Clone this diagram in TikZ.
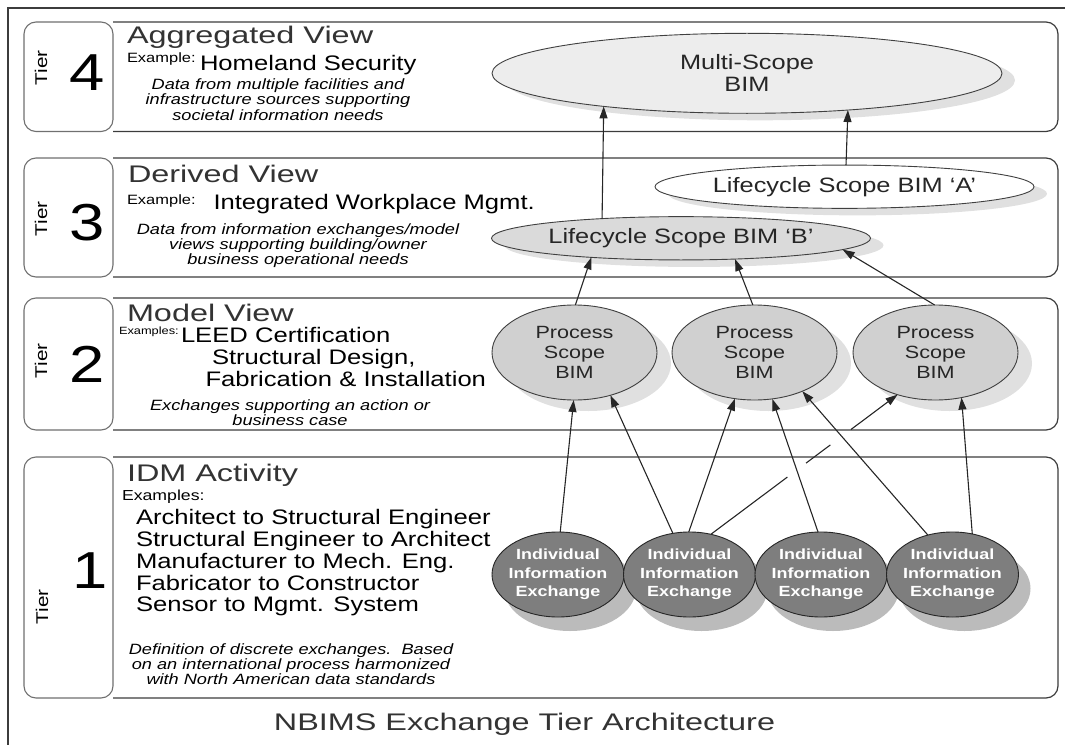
\documentclass[tikz,border=0pt]{standalone}
\usepackage{fontspec}
\setmainfont{Liberation Sans}
\newfontfamily\headfam[FakeStretch=1.35]{Liberation Sans}
\newfontfamily\bodyfam[FakeStretch=1.22]{Liberation Sans}
\usetikzlibrary{shapes.geometric,arrows.meta,shadows,calc}
\definecolor{boxline}{HTML}{3C3C3C}
\definecolor{labline}{HTML}{707070}
\definecolor{multifill}{HTML}{EDEDED}
\definecolor{bfill}{HTML}{DADADA}
\definecolor{psbfill}{HTML}{D0D0D0}
\definecolor{iiefill}{HTML}{7E7E7E}
\definecolor{softshadow}{HTML}{E0E0E0}
\definecolor{iieshadow}{HTML}{BBBBBB}
\tikzset{
  framepen/.style={draw=boxline, line width=1.5bp},
  tierbox/.style={draw=boxline, line width=1.2bp, rounded corners=12bp},
  labelbox/.style={draw=labline, line width=1.1bp, rounded corners=12bp, fill=white},
  txt/.style={inner sep=0pt, outer sep=0pt, text=black},
  headtxt/.style={txt, anchor=base west, text=black!80, font=\headfam\fontsize{24bp}{24bp}\selectfont},
  bigtxt/.style={txt, anchor=base west, font=\bodyfam\fontsize{21bp}{21bp}\selectfont},
  smalltxt/.style={txt, anchor=base west, font=\bodyfam\fontsize{13.5bp}{13.5bp}\selectfont},
  ittxt/.style={txt, anchor=base, font=\bodyfam\itshape\fontsize{14.9bp}{15bp}\selectfont},
  tierword/.style={txt, rotate=90, font=\bodyfam\fontsize{17bp}{17bp}\selectfont},
  tiernum/.style={txt, font=\bodyfam\fontsize{52bp}{52bp}\selectfont},
  bim/.style={ellipse, draw=black!75, line width=0.9bp, inner sep=0pt, outer sep=0pt, align=center, text=black!85},
  multibim/.style={bim, fill=multifill, minimum width=510bp, minimum height=80bp,
     font=\bodyfam\fontsize{20.8bp}{22bp}\selectfont,
     general shadow={shadow xshift=13bp, shadow yshift=-7bp, fill=softshadow}},
  lifebim/.style={bim, minimum width=379bp, minimum height=43.3bp, inner sep=-6bp,
     font=\bodyfam\fontsize{20.8bp}{22bp}\selectfont,
     general shadow={shadow xshift=13bp, shadow yshift=-7bp, fill=softshadow}},
  psbbim/.style={bim, fill=psbfill, minimum width=165bp, minimum height=95bp,
     font=\bodyfam\fontsize{17.7bp}{20bp}\selectfont,
     general shadow={shadow xshift=14bp, shadow yshift=-11bp, fill=softshadow}},
  iiebim/.style={bim, fill=iiefill, draw=black!85, minimum width=132bp, minimum height=85bp, inner sep=-14bp,
     text=white, font=\bodyfam\bfseries\fontsize{14.7bp}{18.3bp}\selectfont,
     general shadow={shadow xshift=12bp, shadow yshift=-14bp, fill=iieshadow}},
  linepen/.style={draw=black!85, line width=1.1bp},
  conn/.style={linepen, -{Triangle[length=12bp,width=8bp]}},
}
\begin{document}
\begin{tikzpicture}[x=1bp,y=-1bp]
\useasboundingbox (0,0) rectangle (1065,745);
% outer frame (left and top edges)
\coordinate (frameA) at (8,745);
\coordinate (frameB) at (8,8);
\coordinate (frameC) at (1065,8);
\draw[framepen] (frameA) -- (frameB) -- (frameC);

% tier boxes
\foreach \t/\b in {22/131.5,158/277,298/430,457/698}{
  \draw[tierbox] (113,\t) -- (1058,\t) -- (1058,\b) -- (113,\b);
  \draw[labelbox] (24,\t) rectangle (113,\b);
}

% ---------- Tier 4 ----------
\node[tierword] (t4word) at (41,68) {Tier};
\node[tiernum] (t4num) at (87,72.5) {4};
\node[headtxt] (t4head) at (127,43.3) {Aggregated View};
\node[smalltxt] (t4ex) at (127,62.5) {Example:};
\node[bigtxt] (t4exa) at (200,70.5) {Homeland Security};
\node[ittxt] (t4i1) at (278,89.5) {Data from multiple facilities and};
\node[ittxt] (t4i2) at (278,105) {infrastructure sources supporting};
\node[ittxt] (t4i3) at (278,120.5) {societal information needs};

% ---------- Tier 3 ----------
\node[tierword] (t3word) at (41,219) {Tier};
\node[tiernum] (t3num) at (87,222.5) {3};
\node[headtxt] (t3head) at (128,182.7) {Derived View};
\node[smalltxt] (t3ex) at (127,204) {Example:};
\node[bigtxt] (t3exa) at (213.5,209) {Integrated Workplace Mgmt.};
\node[ittxt] (t3i1) at (298,234.5) {Data from information exchanges/model};
\node[ittxt] (t3i2) at (298,249.5) {views supporting building/owner};
\node[ittxt] (t3i3) at (298,264.5) {business operational needs};

% ---------- Tier 2 ----------
\node[tierword] (t2word) at (41,361) {Tier};
\node[tiernum] (t2num) at (87,364) {2};
\node[headtxt] (t2head) at (127,321) {Model View};
\node[smalltxt, font=\bodyfam\fontsize{10.5bp}{10.5bp}\selectfont] (t2ex) at (119,334) {Examples:};
\node[bigtxt] (t2exa) at (181,342.5) {LEED Certification};
\node[bigtxt] (t2exb) at (212,364) {Structural Design,};
\node[bigtxt] (t2exc) at (205.5,386) {Fabrication \& Installation};
\node[ittxt] (t2i1) at (290,410) {Exchanges supporting an action or};
\node[ittxt] (t2i2) at (290,425) {business case};

% ---------- Tier 1 ----------
\node[tierword] (t1word) at (42,607) {Tier};
\node[tiernum] (t1num) at (90.5,571) {1};
\node[headtxt] (t1head) at (127,481.7) {IDM Activity};
\node[smalltxt, font=\bodyfam\fontsize{14.5bp}{14.5bp}\selectfont] (t1ex) at (122,500) {Examples:};
\node[bigtxt] (t1l1) at (136,524.5) {Architect to Structural Engineer};
\node[bigtxt] (t1l2) at (136,546.5) {Structural Engineer to Architect};
\node[bigtxt] (t1l3) at (136,568.5) {Manufacturer to Mech. Eng.};
\node[bigtxt] (t1l4) at (136,590) {Fabricator to Constructor};
\node[bigtxt] (t1l5) at (136,611.5) {Sensor to Mgmt. System};
\node[ittxt] (t1i1) at (291,654) {Definition of discrete exchanges.\ \ Based};
\node[ittxt] (t1i2) at (291,669) {on an international process harmonized};
\node[ittxt] (t1i3) at (291,684) {with North American data standards};

% title
\node[txt, anchor=base, text=black!80, font=\headfam\fontsize{24bp}{24bp}\selectfont] (title) at (524.5,730) {NBIMS Exchange Tier Architecture};

% ---------- BIM ellipses ----------
\node[multibim] (multi) at (747,73.3) {Multi-Scope\\BIM};
\node[lifebim, fill=white] (lcA) at (844.5,186.7) {Lifecycle Scope BIM ‘A’};
\node[lifebim, fill=bfill] (lcB) at (681,238.3) {Lifecycle Scope BIM ‘B’};
\node[psbbim] (psb1) at (574.5,352.5) {Process\\Scope\\BIM};
\node[psbbim] (psb2) at (754.5,352.5) {Process\\Scope\\BIM};
\node[psbbim] (psb3) at (935.5,352.5) {Process\\Scope\\BIM};
\node[iiebim] (iie1) at (558,574.5) {Individual\\Information\\Exchange};
\node[iiebim] (iie2) at (689.5,574.5) {Individual\\Information\\Exchange};
\node[iiebim] (iie3) at (821,574.5) {Individual\\Information\\Exchange};
\node[iiebim] (iie4) at (952.5,574.5) {Individual\\Information\\Exchange};

% ---------- connectors ----------
\draw[conn] (iie1.87) -- (psb1.269);
\draw[conn] (iie2.112) -- (psb1.310);
\draw[conn] (iie2.91) -- (psb2.247);
% line with gaps where it jumps the crossing lines
\draw[linepen] (iie2.62) -- ($(iie2.62)!0.41!(psb3.228)$);
\draw[linepen] ($(iie2.62)!0.51!(psb3.228)$) -- ($(iie2.62)!0.64!(psb3.228)$);
\draw[conn] ($(iie2.62)!0.75!(psb3.228)$) -- (psb3.228);
\draw[conn] (iie3.94) -- (psb2.291);
\draw[conn] (iie4.122) -- (psb2.321);
\draw[conn] (iie4.64) -- (psb3.300);

\draw[conn] (psb1.89) -- (lcB.192);
\draw[conn] (psb2.92) -- (lcB.339);
\draw[conn] (psb3.91) -- (lcB.356);

\draw[conn] (lcB.166) -- (multi.193);
\draw[conn] (lcA.86) -- (multi.340);
\end{tikzpicture}
\end{document}
